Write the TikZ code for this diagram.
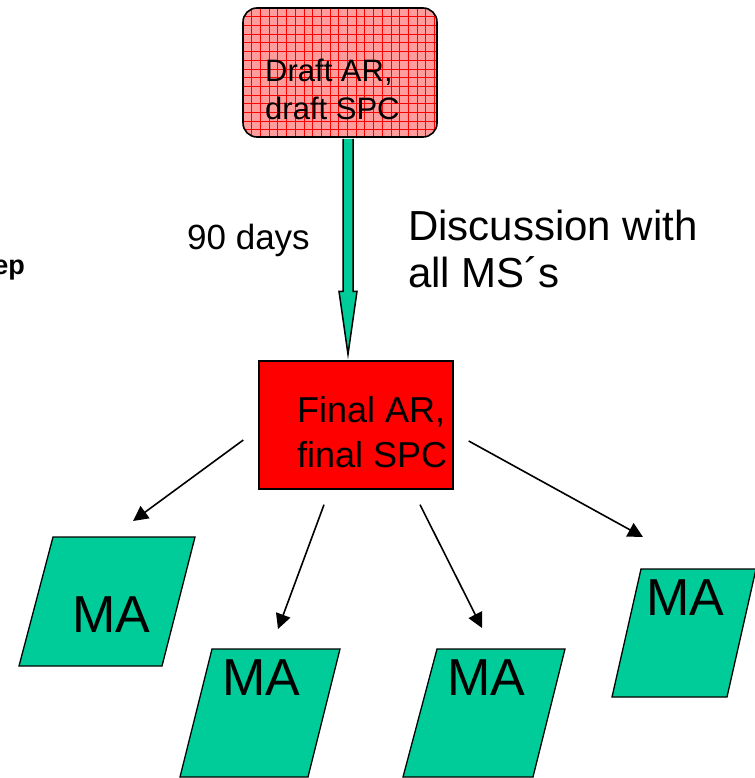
\documentclass[tikz,border=0pt]{standalone}
\usepackage{fontspec}
\setmainfont{Liberation Sans}
\usetikzlibrary{arrows.meta,calc}
\definecolor{magreen}{HTML}{00CC99}
\definecolor{fullred}{HTML}{FF0000}
\definecolor{draftpink}{HTML}{FF9C9C}
\tikzset{
  txt/.style={inner sep=0pt,anchor=base west,align=left},
  matxt/.style={inner sep=0pt,anchor=base,font=\fontsize{52}{60}\selectfont},
  link/.style={-{Triangle[length=15pt,width=15pt]},line width=1.6pt},
  mashape/.style={draw=black,line width=1.3pt,fill=magreen,line join=miter},
}

\begin{document}
\begin{tikzpicture}[x=1pt,y=-1pt]
\useasboundingbox (0,0) rectangle (754,778);

% boxes
\node[draw=black,line width=1.6pt,rounded corners=14pt,fill=draftpink,
  minimum width=194pt,minimum height=129pt,inner sep=0pt,
  path picture={
    \foreach \g in {0,...,23}{
      \draw[fullred,line width=0.7pt] ($(path picture bounding box.north west)+(\g*8.7,0)$) -- ++(0,140);
      \draw[fullred,line width=0.7pt] ($(path picture bounding box.north west)+(0,\g*8.7)$) -- ++(210,0);
    }}] (draft) at (340,72.5) {};
\node[draw=black,line width=1.4pt,fill=fullred,minimum width=194pt,minimum height=128pt] (final) at (356,425) {};

% green block arrow
\coordinate (gtop) at ($(draft.south)+(8,1)$);
\coordinate (gtip) at ($(final.north)+(-8,-6)$);
\draw[line width=1.5pt,fill=magreen,line join=miter]
  ($(gtop)+(-5,0)$) -- ($(gtip)+(-5,-63)$) -- ($(gtip)+(-9,-63)$) -- (gtip)
  -- ($(gtip)+(9,-63)$) -- ($(gtip)+(5,-63)$) -- ($(gtop)+(5,0)$);

% base anchor sits on the last line
\node[txt,font=\fontsize{31}{38}\selectfont] (drafttxt) at (265,120) {Draft AR,\\draft SPC};
\node[txt,font=\fontsize{36}{45}\selectfont] (finaltxt) at (297,467) {Final AR,\\final SPC};

\node[txt,font=\fontsize{35}{42}\selectfont] (days) at (187,249) {90 days};
\node[txt,font=\fontsize{42}{47}\selectfont] (discuss) at (408,287) {Discussion with\\all MS´s};
\node[inner sep=0pt,anchor=base east,font=\fontsize{27}{30}\selectfont\bfseries] (eplabel) at (25,274) {ep};

% MA shapes
\draw[mashape] (53,537) -- (195,537) -- (162,666) -- (19,666) -- cycle;
\draw[mashape] (212,649) -- (340,649) -- (308,777) -- (180,777) -- cycle;
\draw[mashape] (437,649) -- (565,649) -- (533,777) -- (403,777) -- cycle;
\draw[mashape] (641,569) -- (756,569) -- (727,697) -- (612,697) -- cycle;
\node[matxt] (ma1) at (111.5,632) {MA};
\node[matxt] (ma2) at (261,695) {MA};
\node[matxt] (ma3) at (486,695) {MA};
\node[matxt] (ma4) at (685,615) {MA};

% thin arrows
\coordinate (t1) at (133,521);
\coordinate (t2) at (278,629);
\coordinate (t3) at (482,628);
\coordinate (t4) at (643,537);
\draw[link] ($(final.west)+(-15,15)$) -- (t1);
\draw[link] ($(final.south)+(-32,15)$) -- (t2);
\draw[link] ($(final.south)+(64,15)$) -- (t3);
\draw[link] ($(final.east)+(15,16)$) -- (t4);

\end{tikzpicture}
\end{document}
